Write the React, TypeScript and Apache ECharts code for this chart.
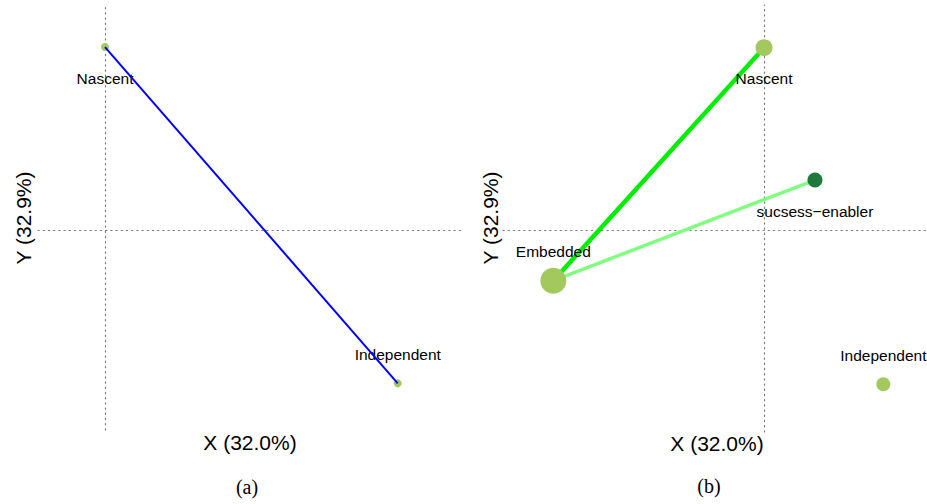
import React, { useEffect, useRef } from "react";
import * as echarts from "echarts";

// ---- data ----
const panelANames = ["Nascent", "Independent"];
const panelAX = [0.0, 1.0];
const panelAY = [1.2, -1.0];

const panelBNames = ["Nascent", "sucsess\u2212enabler", "Embedded", "Independent"];
const panelBX = [0.0, 0.427, -1.766, 1.0];
const panelBY = [1.196, 0.33, -0.328, -1.006];

// links (indices into panel B points)
const panelBLinks = [
  [2, 0],
  [2, 1],
];

const xTitle = "X (32.0%)";
const yTitle = "Y (32.9%)";
const captions = ["(a)", "(b)"];

// ---- styles ----
const LIGHT = "#A3C95E";
const DARK = "#1E7A3C";
const sizesA = [8, 8];
const sizesB = [17, 15, 26, 14];
const colorsB = [LIGHT, DARK, LIGHT, LIGHT];
const labelOffA = [31, -29];
const labelOffB = [31, 31, -29, -29];
const linkColors = ["#00EE00", "#80FF80"];
const linkWidths = [4.5, 3.5];
const SANS = "'Liberation Sans', Arial, Helvetica, sans-serif";
const SERIF = "'Liberation Serif', 'DejaVu Serif', serif";

const dotted = { color: "#7a7a7a", width: 1.2, type: [1.2, 4] as number[] };

function axisBase(gridIndex: number, min: number, max: number) {
  return {
    type: "value",
    gridIndex,
    min,
    max,
    axisLine: { show: true, onZero: true, lineStyle: dotted },
    axisTick: { show: false },
    axisLabel: { show: false },
    splitLine: { show: false },
  };
}

export default function App() {
  const ref = useRef<HTMLDivElement>(null);
  useEffect(() => {
    if (!ref.current) return;
    const chart = echarts.init(ref.current, undefined, { renderer: "svg" });

    const labelStyle = (off: number) => ({
      show: true,
      position: "inside",
      offset: [0, off],
      color: "#000",
      opacity: 1,
      fontFamily: SANS,
      fontSize: 15.5,
      formatter: "{b}",
    });

    const pointsA = panelANames.map((n, i) => ({
      name: n,
      value: [panelAX[i], panelAY[i]],
      symbolSize: sizesA[i],
      itemStyle: { color: LIGHT, opacity: 1 },
      label: labelStyle(labelOffA[i]),
    }));
    const pointsB = panelBNames.map((n, i) => ({
      name: n,
      value: [panelBX[i], panelBY[i]],
      symbolSize: sizesB[i],
      itemStyle: { color: colorsB[i], opacity: 1 },
      label: labelStyle(labelOffB[i]),
    }));

    const linkSeries = panelBLinks.map((l, k) => ({
      type: "line",
      xAxisIndex: 1,
      yAxisIndex: 1,
      data: l.map((i) => [panelBX[i], panelBY[i]]),
      showSymbol: false,
      symbol: "none",
      lineStyle: { color: linkColors[k], width: linkWidths[k], opacity: 1 },
      silent: true,
      z: 2,
    }));

    chart.setOption({
      animation: false,
      backgroundColor: "#fff",
      grid: [
        { left: 38, top: 5, width: 425, height: 425 },
        { left: 503, top: 5, width: 424, height: 427 },
      ],
      xAxis: [axisBase(0, -0.229, 1.223), axisBase(1, -2.188, 1.366)],
      yAxis: [axisBase(0, -1.305, 1.475), axisBase(1, -1.318, 1.475)],
      series: [
        {
          type: "scatter",
          xAxisIndex: 0,
          yAxisIndex: 0,
          data: pointsA,
          itemStyle: { opacity: 1 },
          z: 2,
        },
        {
          type: "line",
          xAxisIndex: 0,
          yAxisIndex: 0,
          data: panelAX.map((x, i) => [x, panelAY[i]]),
          showSymbol: false,
          symbol: "none",
          lineStyle: { color: "#0000FF", width: 2 },
          z: 3,
        },
        ...linkSeries,
        {
          type: "scatter",
          xAxisIndex: 1,
          yAxisIndex: 1,
          data: pointsB,
          itemStyle: { opacity: 1 },
          z: 4,
        },
      ],
      graphic: [
        {
          type: "text",
          x: 250,
          y: 442,
          style: { text: xTitle, font: `21px ${SANS}`, fill: "#000", align: "center", verticalAlign: "middle" },
        },
        {
          type: "text",
          x: 717,
          y: 443,
          style: { text: xTitle, font: `21px ${SANS}`, fill: "#000", align: "center", verticalAlign: "middle" },
        },
        {
          type: "text",
          x: 23,
          y: 218,
          rotation: Math.PI / 2,
          style: { text: yTitle, font: `21px ${SANS}`, fill: "#000", align: "center", verticalAlign: "middle" },
        },
        {
          type: "text",
          x: 490,
          y: 218,
          rotation: Math.PI / 2,
          style: { text: yTitle, font: `21px ${SANS}`, fill: "#000", align: "center", verticalAlign: "middle" },
        },
        {
          type: "text",
          x: 247,
          y: 487,
          style: { text: captions[0], font: `20px ${SERIF}`, fill: "#000", align: "center", verticalAlign: "middle" },
        },
        {
          type: "text",
          x: 709,
          y: 486,
          style: { text: captions[1], font: `20px ${SERIF}`, fill: "#000", align: "center", verticalAlign: "middle" },
        },
      ],
    });
    return () => chart.dispose();
  }, []);
  return (
    <div
      ref={ref}
      style={{ position: "fixed", left: 0, top: 0, width: 927, height: 504 }}
    />
  );
}
